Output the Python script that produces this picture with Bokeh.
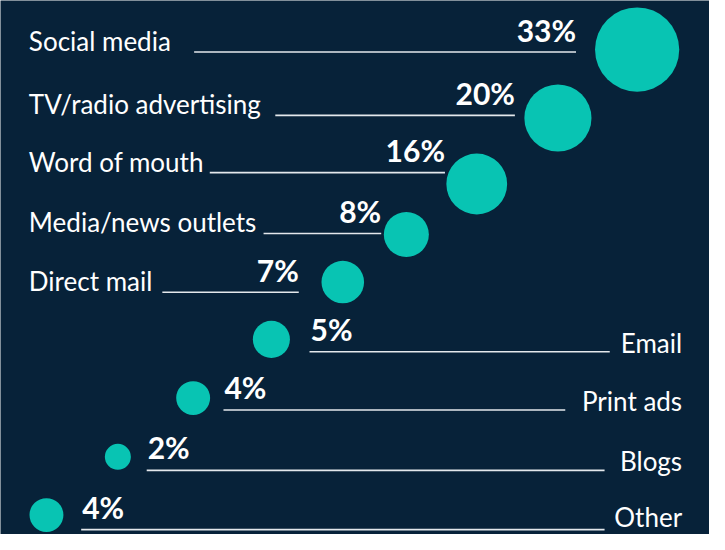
from bokeh.plotting import figure
from bokeh.models import Range1d
from bokeh.core.properties import value
from bokeh.embed import file_html
from bokeh.resources import INLINE
import numpy as np

# ---------------- data ----------------
categories = ["Social media", "TV/radio advertising", "Word of mouth",
              "Media/news outlets", "Direct mail", "Email", "Print ads",
              "Blogs", "Other"]
shares = [33, 20, 16, 8, 7, 5, 4, 2, 4]

# ---------------- layout (design positions, reference pixel space) ----------------
label_side = ["left", "left", "left", "left", "left", "right", "right", "right", "right"]
bubble_x = [651, 570, 487, 415, 350, 277, 197, 120, 47]
bubble_y = [50.5, 121, 189, 241, 290, 349, 409.5, 470, 530]
leader_y = [53, 118.3, 177.3, 240, 300.5, 361.7, 421.7, 484, 545]
leader_x0 = [198, 281, 214, 269, 165.5, 316, 228, 149.5, 82.5]
leader_x1 = [588.5, 526, 454.5, 389.3, 305, 623, 577.5, 617.7, 617.7]
label_dy = [-1.5, -1.5, -1.5, -1.5, -1.5, 0.5, 0.5, 0.5, -3.5]
label_left_x = 29
label_right_x = 697

BG = "#072239"
TEAL = "#08c4b3"
LINE = "#e4e8ec"
FONT = "Lato"
LABEL_PX = 26
PCT_PX = 30
K = 0.37  # baseline correction (fraction of font size)

W, H = 709, 534
p = figure(width=W, height=H, output_backend="svg", toolbar_location=None,
           x_range=Range1d(0, 725), y_range=Range1d(550, 0),
           min_border=0, background_fill_color=BG, border_fill_color=BG)
p.axis.visible = False
p.grid.visible = False
p.outline_line_color = None

ys = 550 / H  # data units per screen px (vertical)

vals = np.array(shares, dtype=float)
diam = 2 * (3.6 + 6.87 * np.sqrt(vals)) * (W / 725)

# bubbles
p.scatter(x=bubble_x, y=bubble_y, size=diam, marker="circle",
          fill_color=TEAL, line_color=None)

# leader lines
p.segment(x0=leader_x0, y0=leader_y, x1=leader_x1, y1=leader_y,
          line_color=LINE, line_width=1.6)

left_idx = [i for i, s in enumerate(label_side) if s == "left"]
right_idx = [i for i, s in enumerate(label_side) if s == "right"]

lab_off = K * LABEL_PX * ys
pct_off = K * PCT_PX * ys

# category labels
p.text(x=[label_left_x] * len(left_idx),
       y=[leader_y[i] + label_dy[i] - lab_off for i in left_idx],
       text=[categories[i] for i in left_idx],
       text_font=value(FONT), text_font_size=f"{LABEL_PX}px", text_color="white",
       text_align="left", text_baseline="alphabetic")
p.text(x=[label_right_x] * len(right_idx),
       y=[leader_y[i] + label_dy[i] - lab_off for i in right_idx],
       text=[categories[i] for i in right_idx],
       text_font=value(FONT), text_font_size=f"{LABEL_PX}px", text_color="white",
       text_align="right", text_baseline="alphabetic")

# percentage labels
pct = [f"{v}%" for v in shares]
p.text(x=[leader_x1[i] for i in left_idx],
       y=[leader_y[i] - 11.5 - pct_off for i in left_idx],
       text=[pct[i] for i in left_idx],
       text_font=value(FONT), text_font_size=f"{PCT_PX}px", text_font_style="bold",
       text_color="white", text_align="right", text_baseline="alphabetic")
p.text(x=[leader_x0[i] + 1 for i in right_idx],
       y=[leader_y[i] - 12.4 - pct_off for i in right_idx],
       text=[pct[i] for i in right_idx],
       text_font=value(FONT), text_font_size=f"{PCT_PX}px", text_font_style="bold",
       text_color="white", text_align="left", text_baseline="alphabetic")

open("out.html", "w").write(file_html(p, INLINE))
